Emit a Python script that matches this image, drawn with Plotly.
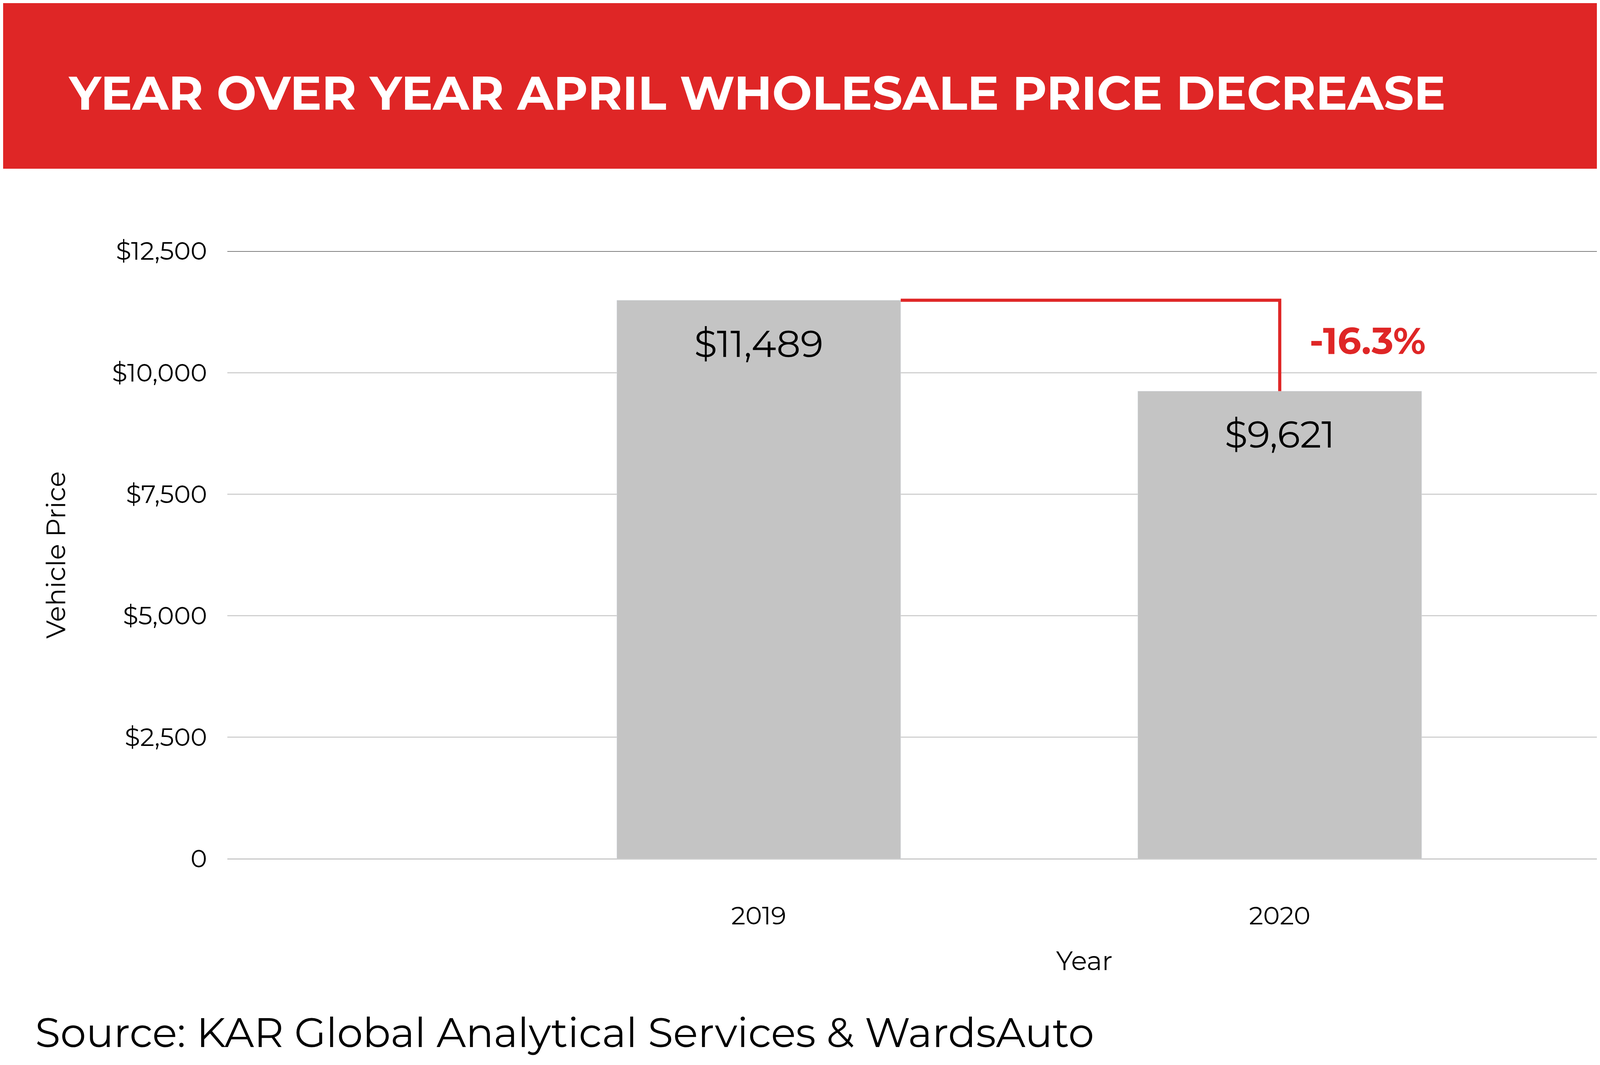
import plotly.graph_objects as go

years = ["2019", "2020"]
prices = [11489, 9621]
price_labels = ["$11,489", "$9,621"]
change_label = "-16.3%"
y_ticks = [0, 2500, 5000, 7500, 10000, 12500]
y_tick_labels = ["0", "$2,500", "$5,000", "$7,500", "$10,000", "$12,500"]

W, H = 5000, 2727
L, R, T, B = 574, 38, 635, 536
PW, PH = W - L - R, H - T - B
RED = "#df2626"
FONT = "Montserrat, Lato, Open Sans, sans-serif"

def px(X, Y):
    return (X - L) / PW, (H - B - Y) / PH

def path(pts):
    parts = []
    for i, (X, Y) in enumerate(pts):
        a, b = px(X, Y)
        parts.append(("M" if i == 0 else "L") + f"{a:.5f},{b:.5f}")
    return "".join(parts) + "Z"

def z(zx, zy):
    return (4500 + zx / 3, 40 + zy / 3)

def seg(p, q):
    a, b = px(*p)
    c, d = px(*q)
    return dict(type="line", xref="paper", yref="paper", x0=a, y0=b, x1=c, y1=d,
                line=dict(color="white", width=9), layer="above")

xs = list(range(len(years)))
fig = go.Figure(go.Bar(x=xs, y=prices, width=0.545, marker_color="#c4c4c4", hoverinfo="skip"))

box = [(4660, 72), (4898, 72), (4837, 347), (4600, 347)]
shapes = [
    dict(type="rect", xref="paper", yref="paper", x0=px(0, 0)[0] - 0.01, x1=px(W, 0)[0] + 0.01,
         y0=px(0, 424)[1], y1=px(0, 0)[1] + 0.01, fillcolor=RED, line_width=0, layer="below"),
]
for i in range(4):
    shapes.append(seg(box[i], box[(i + 1) % 4]))
for poly in ([z(640, 240), z(687, 240), z(622, 543), z(728, 543), z(720, 583), z(567, 583)],
             [z(748, 408), z(798, 408), z(875, 748), z(826, 748)],
             [z(885, 408), z(938, 408), z(720, 748), z(668, 748)]):
    shapes.append(dict(type="path", xref="paper", yref="paper", path=path(poly),
                       fillcolor="white", line=dict(width=0, color="white"), layer="above"))
shapes.append(dict(type="path", xref="x", yref="y",
                   path=f"M{xs[0]+0.2725},{prices[0]}L{xs[1]},{prices[0]}L{xs[1]},{prices[1]}",
                   line=dict(color=RED, width=8)))
shapes.append(dict(type="line", xref="paper", yref="y", x0=0, x1=1, y0=12500, y1=12500,
                   line=dict(color="#555555", width=3)))

annotations = [
    dict(text="<b>YEAR OVER YEAR APRIL WHOLESALE PRICE DECREASE</b>", xref="paper", yref="paper",
         x=px(165, 0)[0], y=px(0, 230)[1], xanchor="left", yanchor="middle", showarrow=False,
         font=dict(size=121, color="white", family=FONT)),
    dict(text="<b>" + change_label + "</b>", xref="x", yref="y", x=xs[1] + 0.055,
         y=10660, xanchor="left", yanchor="middle",
         showarrow=False, font=dict(size=95, color=RED)),
    dict(text="Source: KAR Global Analytical Services &amp; WardsAuto", xref="paper", yref="paper",
         x=px(80, 0)[0], y=px(0, 2635)[1], xanchor="left", yanchor="middle", showarrow=False,
         font=dict(size=105, color="black")),
]
for xv, yv, lab in zip(xs, prices, price_labels):
    annotations.append(dict(text=lab, x=xv, y=yv, xref="x", yref="y", yanchor="top",
                            yshift=-50, showarrow=False, font=dict(size=96, color="black")))

fig.update_layout(
    width=W, height=H, margin=dict(l=L, r=R, t=T, b=B, autoexpand=False),
    paper_bgcolor="white", plot_bgcolor="white", showlegend=False,
    font=dict(family=FONT, color="black"),
    shapes=shapes, annotations=annotations,
    xaxis=dict(range=[-1.02, 2.27], tickvals=xs, ticktext=years, showgrid=False, automargin=False,
               zeroline=False, tickfont=dict(size=64), ticks="outside", ticklen=90,
               tickcolor="rgba(0,0,0,0)",
               title=dict(text="Year", font=dict(size=67), standoff=55)),
    yaxis=dict(range=[0, 12500], tickvals=y_ticks, ticktext=y_tick_labels, automargin=False,
               gridcolor="#d0d0d0", gridwidth=3, zeroline=True, zerolinecolor="#c8c8c8",
               zerolinewidth=3, tickfont=dict(size=64), ticks="outside", ticklen=38,
               tickcolor="rgba(0,0,0,0)",
               title=dict(text="Vehicle Price", font=dict(size=67), standoff=97)),
)
fig.write_html("out.html")
